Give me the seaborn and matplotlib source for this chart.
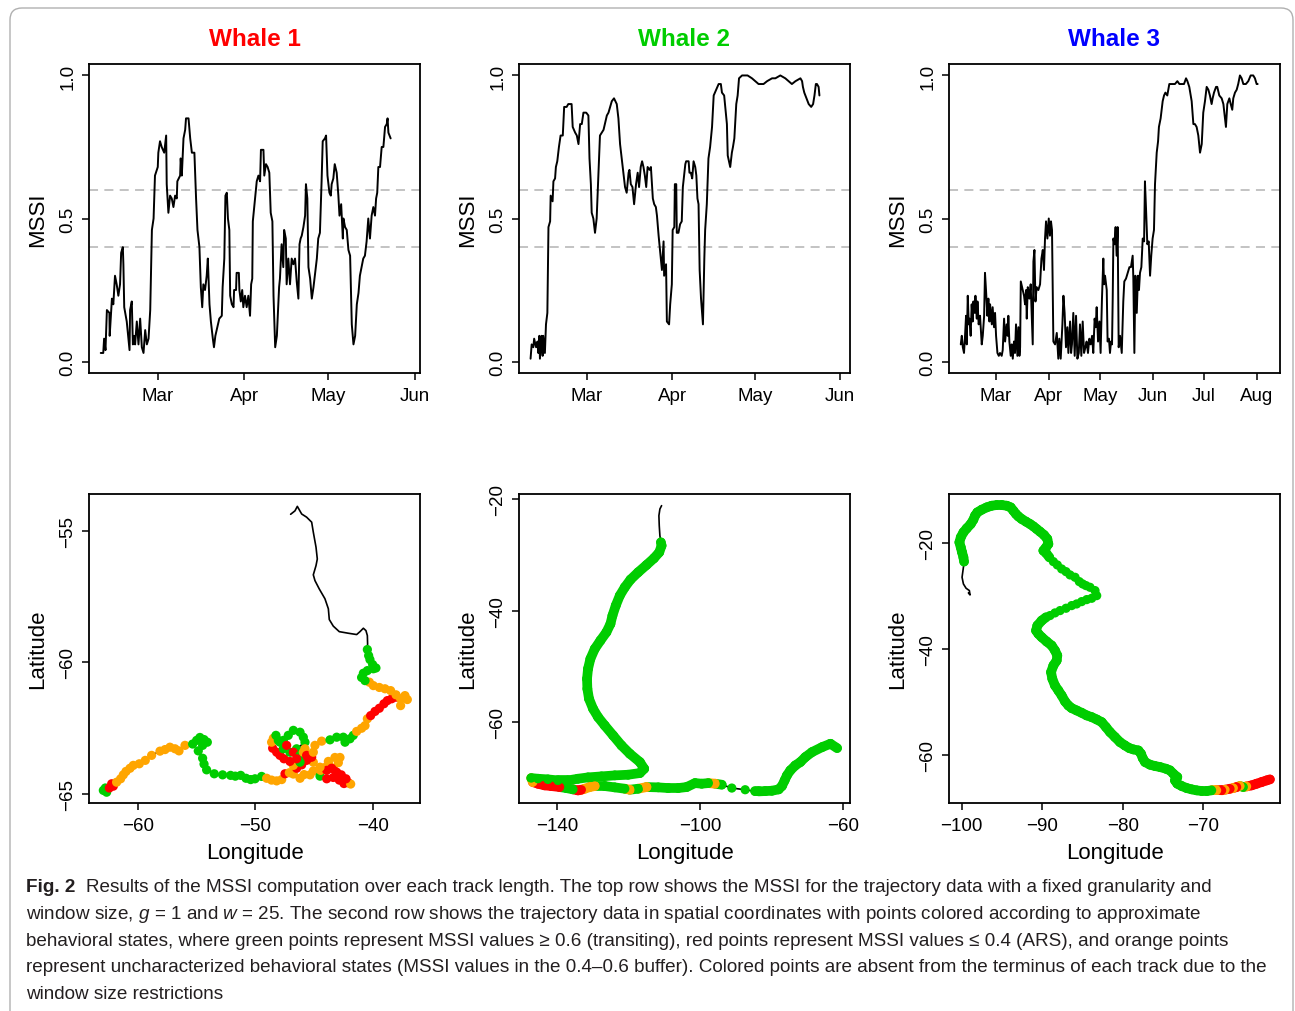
import numpy as np
import pandas as pd
import matplotlib
matplotlib.use("Agg")
import matplotlib.pyplot as plt
import seaborn as sns
from matplotlib.patches import FancyBboxPatch

# ---------------- data ----------------
whale_names = ["Whale 1", "Whale 2", "Whale 3"]
whale_colors = ["#FF0000", "#00CD00", "#0000FF"]
state_palette = {"g": "#00CD00", "r": "#FF0000", "o": "#FFA500"}
thresholds = [0.4, 0.6]

month_days = [59, 90, 120, 151, 181, 212]          # day of year (0 = Jan 1)
month_labels = ["Mar", "Apr", "May", "Jun", "Jul", "Aug"]
mssi_ticks = [0.0, 0.5, 1.0]
mssi_ticklabels = ["0.0", "0.5", "1.0"]

# (day of year, MSSI)
w1_series = [(38.6,0.03),(39.5,0.03),(39.8,0.08),(40.3,0.04),(40.8,0.18),(41.7,0.17),(41.8,0.09),(42.6,0.22),(43.1,0.20),(43.7,0.30),(44.3,0.27),(44.9,0.23),(45.5,0.27),(45.9,0.38),(46.5,0.40),(46.7,0.34),(47.0,0.19),(47.9,0.14),(48.9,0.04),(49.1,0.18),(49.7,0.21),(50.1,0.06),(50.5,0.09),(50.9,0.06),(51.5,0.14),(52.1,0.06),(52.7,0.15),(53.3,0.05),(53.9,0.03),(54.5,0.11),(55.1,0.06),(55.7,0.08),(56.3,0.18),(56.9,0.46),(57.5,0.50),(58.0,0.65),(59.0,0.68),(59.2,0.73),(59.8,0.77),(60.4,0.75),(61.3,0.73),(62.0,0.79),(62.2,0.62),(62.8,0.52),(63.4,0.58),(64.0,0.57),(64.6,0.54),(65.2,0.58),(65.8,0.57),(66.0,0.63),(67.0,0.65),(67.2,0.71),(67.6,0.65),(68.2,0.78),(68.8,0.81),(69.1,0.85),(70.0,0.85),(70.6,0.78),(71.2,0.73),(72.1,0.73),(72.7,0.57),(73.2,0.46),(73.9,0.40),(74.4,0.26),(74.9,0.19),(75.3,0.27),(75.9,0.25),(76.5,0.30),(76.9,0.36),(77.5,0.20),(78.0,0.14),(78.7,0.08),(79.1,0.05),(79.6,0.09),(80.3,0.12),(81.0,0.15),(81.9,0.16),(82.2,0.26),(82.8,0.36),(83.2,0.58),(83.7,0.59),(84.1,0.50),(84.6,0.46),(84.9,0.23),(85.5,0.20),(86.1,0.19),(86.3,0.25),(87.0,0.25),(87.2,0.31),(88.0,0.31),(88.2,0.25),(88.7,0.21),(89.2,0.25),(89.6,0.19),(90.2,0.23),(90.8,0.19),(91.4,0.23),(92.0,0.16),(92.4,0.27),(92.8,0.29),(93.0,0.49),(93.8,0.57),(94.4,0.63),(95.0,0.65),(95.6,0.63),(95.9,0.74),(96.8,0.74),(97.1,0.65),(97.7,0.69),(98.3,0.68),(98.9,0.66),(99.4,0.52),(100.0,0.49),(100.4,0.23),(101.0,0.05),(101.6,0.09),(102.4,0.26),(102.7,0.29),(103.3,0.41),(103.9,0.33),(104.2,0.46),(104.8,0.43),(105.1,0.27),(105.7,0.36),(106.3,0.27),(106.9,0.36),(107.5,0.34),(108.1,0.36),(108.7,0.28),(109.3,0.22),(109.7,0.41),(110.1,0.43),(110.5,0.44),(111.1,0.47),(111.7,0.51),(112.0,0.62),(112.5,0.57),(112.9,0.33),(113.5,0.29),(114.1,0.22),(114.7,0.26),(115.3,0.31),(115.9,0.36),(116.4,0.43),(117.0,0.45),(117.6,0.63),(118.0,0.77),(118.8,0.78),(119.2,0.79),(119.7,0.65),(120.4,0.59),(120.9,0.58),(121.2,0.62),(121.8,0.64),(122.3,0.69),(123.0,0.66),(123.6,0.58),(124.0,0.51),(124.6,0.55),(125.2,0.43),(125.4,0.50),(126.0,0.47),(126.6,0.46),(127.2,0.39),(127.8,0.37),(128.4,0.13),(129.0,0.06),(129.6,0.09),(130.2,0.20),(130.8,0.24),(131.3,0.30),(131.9,0.33),(132.5,0.36),(133.1,0.37),(133.7,0.42),(134.3,0.50),(134.9,0.43),(135.5,0.51),(136.1,0.54),(136.7,0.51),(137.1,0.57),(137.5,0.59),(137.9,0.68),(138.5,0.68),(139.1,0.75),(139.7,0.75),(140.3,0.82),(140.9,0.83),(141.2,0.85),(141.5,0.80),(142.3,0.78)]

w2_series = [(38.6,0.01),(39.0,0.06),(39.6,0.05),(39.9,0.08),(40.6,0.05),(41.1,0.07),(41.4,0.03),(41.8,0.09),(42.0,0.01),(42.6,0.09),(43.0,0.02),(43.2,0.09),(43.8,0.03),(44.2,0.13),(44.7,0.17),(45.1,0.47),(45.7,0.49),(45.9,0.58),(46.6,0.56),(46.9,0.63),(47.5,0.64),(47.8,0.68),(48.3,0.70),(48.9,0.75),(49.5,0.79),(50.3,0.79),(50.8,0.89),(51.7,0.89),(52.3,0.90),(52.9,0.90),(53.5,0.90),(53.9,0.82),(54.8,0.80),(55.4,0.79),(56.0,0.76),(56.6,0.83),(57.2,0.83),(57.8,0.87),(58.8,0.87),(59.6,0.86),(60.0,0.71),(60.5,0.62),(60.8,0.52),(61.4,0.50),(62.0,0.45),(62.6,0.50),(63.2,0.65),(63.8,0.79),(65.1,0.81),(66.3,0.86),(66.9,0.87),(68.1,0.91),(68.9,0.92),(69.9,0.90),(70.5,0.85),(71.1,0.76),(71.7,0.71),(72.9,0.61),(73.5,0.59),(74.2,0.66),(74.5,0.67),(75.0,0.62),(75.6,0.61),(76.2,0.55),(76.9,0.62),(77.5,0.66),(78.0,0.61),(78.6,0.68),(79.1,0.70),(79.6,0.68),(80.1,0.65),(80.6,0.61),(81.1,0.68),(81.8,0.67),(82.3,0.68),(82.6,0.63),(83.0,0.57),(83.5,0.55),(84.1,0.54),(84.5,0.51),(85.1,0.44),(86.3,0.32),(86.9,0.42),(87.1,0.30),(87.8,0.34),(88.1,0.14),(88.9,0.13),(89.3,0.20),(89.9,0.27),(90.2,0.46),(90.8,0.47),(91.0,0.62),(91.5,0.62),(91.7,0.45),(92.3,0.45),(92.9,0.48),(93.5,0.49),(93.9,0.61),(94.8,0.69),(95.1,0.70),(96.0,0.70),(96.3,0.66),(96.8,0.66),(97.3,0.64),(97.8,0.70),(98.4,0.68),(98.8,0.65),(99.2,0.57),(99.6,0.55),(100.0,0.32),(100.5,0.22),(101.2,0.13),(101.7,0.36),(102.0,0.46),(102.6,0.55),(103.2,0.71),(103.8,0.75),(104.5,0.82),(105.1,0.93),(106.0,0.95),(106.9,0.97),(107.7,0.97),(108.1,0.94),(108.9,0.93),(109.9,0.83),(110.2,0.72),(111.1,0.68),(111.7,0.73),(112.1,0.75),(112.6,0.78),(113.3,0.90),(113.8,0.93),(114.3,0.99),(115.4,1.00),(117.4,1.00),(119.0,0.99),(120.2,0.98),(121.4,0.97),(123.2,0.97),(124.5,0.98),(126.3,0.99),(127.5,0.99),(129.3,1.00),(131.1,0.99),(132.3,0.98),(133.5,0.97),(134.8,0.98),(136.6,0.99),(137.2,0.98),(137.5,0.96),(138.0,0.94),(138.8,0.92),(139.6,0.90),(140.5,0.89),(141.2,0.90),(141.7,0.93),(142.2,0.97),(142.6,0.97),(143.2,0.96),(143.5,0.93)]

w3_series = [(38.5,0.06),(39.1,0.09),(39.7,0.05),(40.4,0.03),(41.0,0.09),(41.6,0.16),(42.0,0.06),(42.6,0.23),(43.2,0.13),(43.6,0.15),(44.3,0.09),(44.9,0.20),(45.5,0.14),(45.9,0.21),(46.7,0.17),(47.1,0.23),(47.9,0.15),(48.3,0.21),(49.0,0.13),(49.8,0.16),(50.8,0.06),(51.4,0.09),(52.2,0.16),(52.7,0.31),(53.3,0.25),(54.1,0.16),(54.7,0.22),(55.3,0.14),(55.7,0.20),(56.7,0.13),(57.2,0.19),(58.0,0.12),(58.6,0.17),(59.2,0.09),(60.0,0.03),(60.8,0.02),(61.5,0.03),(62.5,0.02),(63.1,0.04),(63.9,0.15),(64.5,0.07),(65.4,0.13),(66.0,0.09),(66.4,0.16),(67.0,0.07),(67.8,0.02),(68.4,0.06),(69.0,0.01),(69.7,0.07),(70.3,0.03),(70.9,0.13),(71.7,0.02),(72.3,0.12),(72.9,0.02),(73.3,0.05),(73.7,0.28),(74.8,0.25),(75.6,0.23),(76.2,0.20),(76.8,0.25),(77.2,0.15),(77.8,0.26),(78.7,0.22),(79.5,0.27),(80.1,0.17),(80.7,0.06),(81.1,0.35),(81.7,0.39),(82.3,0.21),(83.0,0.26),(84.0,0.25),(85.0,0.27),(85.8,0.36),(86.6,0.39),(87.3,0.32),(87.9,0.43),(88.5,0.49),(89.3,0.43),(90.1,0.50),(90.8,0.44),(91.4,0.49),(92.0,0.46),(92.8,0.07),(93.8,0.06),(94.8,0.10),(95.7,0.01),(96.3,0.08),(97.1,0.01),(98.1,0.13),(98.7,0.23),(99.4,0.17),(100.2,0.05),(101.0,0.12),(101.6,0.03),(102.6,0.14),(103.2,0.03),(103.7,0.06),(104.5,0.17),(105.3,0.02),(106.1,0.16),(106.9,0.01),(107.7,0.03),(108.4,0.13),(109.2,0.02),(110.0,0.14),(110.8,0.03),(111.6,0.05),(112.3,0.07),(113.1,0.03),(113.9,0.08),(114.7,0.06),(115.5,0.09),(116.2,0.03),(117.0,0.15),(117.6,0.12),(118.2,0.19),(119.0,0.07),(119.8,0.14),(120.5,0.03),(121.3,0.22),(122.1,0.36),(122.5,0.27),(123.1,0.30),(124.1,0.25),(124.6,0.07),(125.4,0.08),(126.0,0.03),(126.6,0.07),(127.2,0.06),(127.6,0.22),(128.0,0.43),(128.6,0.41),(129.3,0.47),(129.9,0.37),(130.5,0.47),(131.1,0.05),(131.9,0.09),(132.9,0.03),(133.8,0.21),(134.4,0.28),(135.4,0.29),(136.4,0.31),(137.4,0.33),(138.3,0.33),(139.3,0.37),(139.7,0.29),(140.3,0.03),(140.9,0.30),(141.7,0.17),(142.4,0.30),(143.0,0.25),(143.6,0.31),(144.4,0.33),(145.2,0.43),(146.0,0.42),(146.5,0.63),(147.1,0.54),(147.9,0.41),(148.7,0.42),(149.5,0.30),(150.2,0.37),(151.0,0.43),(151.8,0.46),(152.4,0.62),(153.4,0.73),(154.2,0.77),(154.7,0.82),(155.7,0.85),(156.9,0.91),(157.7,0.93),(158.5,0.94),(159.6,0.93),(160.8,0.97),(162.2,0.97),(164.1,0.97),(165.5,0.98),(166.7,0.97),(168.0,0.97),(169.4,0.97),(170.6,0.99),(171.4,0.98),(172.5,0.96),(173.9,0.91),(174.9,0.83),(175.8,0.83),(176.8,0.82),(177.8,0.79),(178.8,0.73),(179.8,0.76),(180.7,0.87),(181.7,0.91),(182.7,0.96),(183.7,0.95),(184.6,0.93),(185.6,0.90),(186.2,0.92),(187.0,0.94),(188.2,0.96),(188.9,0.96),(190.1,0.93),(191.5,0.92),(192.5,0.90),(193.4,0.85),(194.0,0.82),(194.8,0.90),(196.0,0.92),(196.8,0.90),(197.7,0.88),(198.3,0.92),(199.3,0.94),(200.3,0.95),(201.2,0.97),(202.2,1.00),(203.2,0.99),(204.2,0.97),(205.7,0.97),(207.1,0.98),(208.5,1.00),(210.0,1.00),(211.0,0.99),(212.0,0.97),(212.6,0.97)]

# (longitude, latitude, state)  g = MSSI>=0.6, r = MSSI<=0.4, o = buffer, '-' = no MSSI (terminus)
w1_track = [(-62.92,-64.87,'g'),(-62.64,-64.94,'g'),(-62.75,-64.78,'g'),(-62.41,-64.78,'r'),(-62.21,-64.62,'r'),(-62.07,-64.71,'r'),(-61.79,-64.56,'o'),(-61.45,-64.43,'o'),(-61.22,-64.28,'o'),(-60.99,-64.15,'o'),(-60.65,-64.03,'o'),(-60.37,-63.92,'o'),(-59.86,-63.86,'o'),(-59.35,-63.73,'o'),(-58.81,-63.54,'o'),(-58.10,-63.38,'o'),(-57.67,-63.32,'o'),(-57.25,-63.23,'o'),(-56.82,-63.29,'o'),(-56.48,-63.37,'o'),(-55.97,-63.16,'o'),(-55.32,-63.11,'g'),(-54.98,-62.97,'g'),(-54.70,-62.86,'g'),(-54.35,-62.94,'g'),(-54.07,-63.04,'g'),(-54.47,-63.16,'g'),(-54.84,-63.37,'g'),(-54.47,-63.65,'g'),(-54.35,-63.87,'g'),(-54.13,-64.09,'g'),(-53.48,-64.24,'g'),(-52.77,-64.28,'g'),(-52.09,-64.30,'g'),(-51.69,-64.33,'g'),(-51.23,-64.30,'g'),(-50.78,-64.41,'g'),(-50.38,-64.46,'g'),(-50.01,-64.43,'g'),(-49.45,-64.34,'g'),(-49.02,-64.41,'o'),(-48.60,-64.48,'o'),(-48.17,-64.51,'o'),(-47.74,-64.46,'o'),(-47.46,-64.24,'r'),(-47.09,-64.20,'o'),(-46.75,-64.25,'o'),(-46.18,-64.41,'o'),(-45.84,-64.27,'o'),(-45.33,-64.28,'o'),(-45.05,-64.13,'o'),(-44.48,-64.33,'g'),(-43.91,-64.43,'r'),(-43.35,-64.38,'r'),(-42.84,-64.48,'r'),(-42.44,-64.61,'r'),(-42.07,-64.58,'r'),(-41.87,-64.63,'o'),(-42.27,-64.43,'r'),(-42.67,-64.28,'r'),(-43.06,-64.18,'r'),(-43.35,-64.05,'r'),(-43.69,-63.92,'o'),(-44.06,-64.00,'o'),(-44.43,-64.11,'o'),(-43.77,-63.77,'o'),(-43.21,-63.62,'o'),(-42.78,-63.62,'o'),(-42.92,-63.82,'o'),(-43.49,-64.03,'r'),(-43.91,-64.11,'r'),(-44.48,-63.99,'o'),(-45.05,-63.80,'o'),(-45.33,-63.61,'r'),(-45.62,-63.73,'r'),(-46.04,-63.90,'r'),(-46.47,-64.03,'r'),(-46.75,-63.92,'o'),(-47.04,-63.77,'r'),(-47.55,-63.67,'r'),(-47.89,-63.54,'r'),(-48.17,-63.42,'r'),(-48.51,-63.27,'r'),(-48.60,-63.04,'o'),(-48.45,-62.89,'o'),(-48.23,-62.78,'g'),(-48.03,-62.97,'g'),(-47.60,-62.97,'g'),(-47.18,-62.78,'g'),(-46.75,-62.59,'g'),(-46.18,-62.66,'g'),(-45.90,-62.85,'g'),(-45.76,-63.04,'g'),(-46.47,-63.29,'g'),(-47.04,-63.42,'g'),(-47.60,-63.29,'g'),(-47.89,-63.04,'g'),(-47.32,-63.16,'r'),(-46.75,-63.42,'r'),(-46.18,-63.54,'g'),(-45.90,-63.42,'o'),(-45.76,-63.29,'o'),(-46.18,-63.80,'g'),(-46.47,-63.67,'r'),(-45.62,-63.54,'r'),(-45.19,-63.61,'r'),(-45.05,-63.42,'o'),(-44.91,-63.16,'o'),(-44.34,-63.00,'o'),(-43.63,-62.95,'g'),(-43.06,-62.85,'g'),(-42.50,-62.85,'g'),(-42.35,-63.04,'g'),(-41.93,-62.91,'g'),(-41.65,-62.78,'g'),(-41.36,-62.63,'o'),(-40.94,-62.51,'o'),(-40.65,-62.41,'o'),(-40.45,-62.15,'o'),(-40.17,-62.03,'r'),(-39.80,-61.87,'r'),(-39.43,-61.75,'r'),(-39.04,-61.58,'r'),(-38.75,-61.46,'r'),(-38.38,-61.39,'r'),(-38.01,-61.33,'r'),(-37.62,-61.39,'o'),(-37.05,-61.42,'o'),(-37.25,-61.27,'o'),(-37.62,-61.65,'o'),(-38.01,-61.24,'o'),(-38.47,-61.08,'o'),(-38.95,-61.01,'o'),(-39.43,-60.96,'o'),(-39.94,-60.89,'o'),(-40.28,-60.76,'o'),(-40.65,-60.70,'g'),(-40.94,-60.58,'g'),(-40.79,-60.42,'g'),(-40.45,-60.32,'g'),(-39.94,-60.25,'g'),(-39.72,-60.22,'g'),(-40.00,-60.09,'g'),(-40.23,-59.90,'g'),(-40.34,-59.75,'g'),(-40.45,-59.52,'g'),(-40.43,-59.30,'-'),(-40.45,-58.99,'-'),(-40.57,-58.80,'-'),(-40.79,-58.71,'-'),(-41.08,-58.84,'-'),(-41.36,-58.95,'-'),(-42.07,-58.90,'-'),(-42.84,-58.84,'-'),(-43.35,-58.63,'-'),(-43.69,-58.38,'-'),(-43.77,-57.97,'-'),(-44.06,-57.59,'-'),(-44.54,-57.22,'-'),(-44.91,-56.90,'-'),(-45.05,-56.68,'-'),(-44.82,-56.33,'-'),(-44.71,-56.08,'-'),(-44.82,-55.63,'-'),(-45.05,-55.06,'-'),(-45.19,-54.68,'-'),(-45.62,-54.49,'-'),(-46.04,-54.37,'-'),(-46.41,-54.08,'-'),(-46.61,-54.25,'-'),(-46.98,-54.38,'-')]

w2_track = [(-61.61,-64.66,'g'),(-63.48,-63.88,'g'),(-65.82,-64.48,'g'),(-68.63,-65.37,'g'),(-70.51,-66.27,'g'),(-71.91,-67.16,'g'),(-73.31,-67.76,'g'),(-74.72,-68.66,'g'),(-75.66,-69.55,'g'),(-76.31,-70.45,'g'),(-77.06,-71.46,'g'),(-78.00,-72.06,'g'),(-79.87,-72.30,'g'),(-81.74,-72.36,'g'),(-83.61,-72.42,'g'),(-84.55,-72.42,'g'),(-87.36,-72.12,'g'),(-91.10,-71.82,'g'),(-93.91,-71.22,'g'),(-95.79,-71.04,'o'),(-97.66,-70.93,'g'),(-99.53,-71.04,'g'),(-101.40,-70.93,'g'),(-103.75,-71.64,'g'),(-106.09,-71.82,'g'),(-108.90,-71.82,'g'),(-111.70,-71.70,'g'),(-114.98,-71.64,'o'),(-117.32,-71.94,'g'),(-119.66,-72.12,'o'),(-121.07,-71.94,'g'),(-123.88,-71.70,'g'),(-126.69,-71.46,'g'),(-129.49,-71.46,'o'),(-130.90,-71.64,'o'),(-132.30,-71.94,'o'),(-133.24,-72.12,'r'),(-134.18,-72.24,'r'),(-135.58,-72.06,'g'),(-137.45,-71.82,'g'),(-139.33,-71.64,'r'),(-141.67,-71.46,'r'),(-143.54,-71.34,'r'),(-145.41,-71.04,'r'),(-146.82,-70.75,'o'),(-147.28,-70.03,'g'),(-145.41,-70.15,'g'),(-142.60,-70.27,'g'),(-139.79,-70.45,'g'),(-136.99,-70.45,'g'),(-134.18,-70.15,'g'),(-131.37,-69.91,'g'),(-127.62,-69.73,'g'),(-123.88,-69.55,'g'),(-120.13,-69.43,'g'),(-116.85,-69.13,'g'),(-115.64,-68.36,'g'),(-116.85,-67.16,'g'),(-119.66,-65.67,'g'),(-122.00,-64.18,'g'),(-124.34,-62.39,'g'),(-126.69,-60.60,'g'),(-128.56,-59.10,'g'),(-129.96,-57.61,'g'),(-131.09,-55.82,'g'),(-131.55,-54.03,'g'),(-131.65,-52.24,'g'),(-131.37,-50.45,'g'),(-130.71,-48.66,'g'),(-129.49,-46.87,'g'),(-127.90,-45.37,'g'),(-126.22,-43.88,'g'),(-125.09,-42.39,'g'),(-124.53,-40.90,'g'),(-123.60,-39.10,'g'),(-122.47,-37.31,'g'),(-121.07,-35.82,'g'),(-119.48,-34.45,'g'),(-117.32,-33.13,'g'),(-114.98,-31.82,'g'),(-112.92,-30.63,'g'),(-111.42,-29.55,'g'),(-110.77,-28.36,'g'),(-110.96,-27.76,'g'),(-111.24,-26.57,'-'),(-111.42,-24.78,'-'),(-111.52,-22.99,'-'),(-111.24,-21.79,'-'),(-110.77,-21.19,'-')]

w3_track = [(-61.73,-64.51,'r'),(-62.14,-64.70,'r'),(-62.76,-65.01,'r'),(-63.38,-65.32,'r'),(-64.01,-65.64,'r'),(-64.63,-65.83,'o'),(-65.04,-65.95,'g'),(-65.45,-65.76,'o'),(-65.87,-65.95,'r'),(-66.28,-66.14,'o'),(-66.69,-66.27,'r'),(-67.31,-66.45,'o'),(-67.73,-66.58,'r'),(-68.35,-66.58,'o'),(-68.97,-66.58,'g'),(-69.59,-66.70,'g'),(-70.21,-66.70,'g'),(-70.83,-66.58,'g'),(-71.45,-66.39,'g'),(-72.07,-66.14,'g'),(-72.69,-65.76,'g'),(-73.23,-65.32,'g'),(-73.52,-64.70,'g'),(-73.23,-64.07,'g'),(-73.73,-63.44,'g'),(-74.14,-62.81,'g'),(-74.64,-62.50,'g'),(-75.38,-62.18,'g'),(-76.00,-61.99,'g'),(-76.62,-61.74,'g'),(-77.24,-61.24,'g'),(-77.53,-60.49,'g'),(-77.74,-59.67,'g'),(-78.07,-59.05,'g'),(-78.69,-58.86,'g'),(-79.19,-58.61,'g'),(-79.73,-58.11,'g'),(-80.35,-57.48,'g'),(-80.97,-56.53,'g'),(-81.59,-55.59,'g'),(-82.09,-54.65,'g'),(-82.62,-53.71,'g'),(-83.24,-53.21,'g'),(-83.86,-52.77,'g'),(-84.48,-52.45,'g'),(-85.11,-51.95,'g'),(-85.73,-51.51,'g'),(-86.35,-51.07,'g'),(-86.76,-50.57,'g'),(-87.17,-49.82,'g'),(-87.59,-48.69,'g'),(-88.00,-47.75,'g'),(-88.42,-46.81,'g'),(-88.75,-45.55,'g'),(-88.91,-44.29,'g'),(-88.62,-43.04,'g'),(-88.21,-42.10,'g'),(-88.13,-41.16,'g'),(-88.42,-40.21,'g'),(-88.83,-39.27,'g'),(-89.45,-38.52,'g'),(-90.07,-37.70,'g'),(-90.48,-37.07,'g'),(-90.77,-36.45,'g'),(-90.61,-35.51,'g'),(-90.07,-34.56,'g'),(-89.53,-33.94,'g'),(-89.04,-33.62,'g'),(-88.42,-33.12,'g'),(-87.79,-32.68,'g'),(-87.05,-32.24,'g'),(-86.35,-31.74,'g'),(-85.73,-31.43,'g'),(-85.11,-30.99,'g'),(-84.48,-30.61,'g'),(-83.86,-30.36,'g'),(-83.24,-29.86,'g'),(-83.45,-28.91,'g'),(-84.07,-28.29,'g'),(-84.57,-27.97,'g'),(-84.98,-27.66,'g'),(-85.40,-27.22,'g'),(-85.93,-26.40,'g'),(-86.55,-25.96,'g'),(-87.05,-25.34,'g'),(-87.59,-24.83,'g'),(-88.13,-24.08,'g'),(-88.62,-23.45,'g'),(-89.12,-22.64,'g'),(-89.53,-21.82,'g'),(-89.86,-21.38,'g'),(-89.53,-20.75,'g'),(-89.24,-20.13,'g'),(-89.37,-19.18,'g'),(-89.78,-18.43,'g'),(-90.28,-17.80,'g'),(-90.69,-17.30,'g'),(-91.10,-16.80,'g'),(-91.52,-16.36,'g'),(-92.01,-15.92,'g'),(-92.55,-15.42,'g'),(-92.97,-14.92,'g'),(-93.26,-14.48,'g'),(-93.59,-13.85,'g'),(-93.92,-13.22,'g'),(-94.41,-12.91,'g'),(-95.04,-12.78,'g'),(-95.66,-12.78,'g'),(-96.28,-12.91,'g'),(-96.90,-13.22,'g'),(-97.52,-13.66,'g'),(-98.06,-14.16,'g'),(-98.35,-14.79,'g'),(-98.55,-15.54,'g'),(-98.88,-16.36,'g'),(-99.38,-17.18,'g'),(-99.79,-17.93,'g'),(-100.12,-18.87,'g'),(-100.29,-19.81,'g'),(-100.12,-20.75,'g'),(-99.96,-21.69,'g'),(-99.79,-22.64,'g'),(-99.71,-23.45,'g'),(-99.79,-24.52,'-'),(-99.88,-25.46,'-'),(-99.96,-26.40,'-'),(-99.79,-27.66,'-'),(-99.46,-28.47,'-'),(-99.05,-28.91,'-'),(-98.97,-29.73,'-'),(-99.17,-29.35,'-')]

# index runs where fixes are so dense that the dots merge into a band
w1_dense = []
w2_dense = [(0, 15), (18, 83)]
w3_dense = [(0, 66), (88, 122)]

lon_ticks = [[-60, -50, -40], [-140, -100, -60], [-100, -90, -80, -70]]
lat_ticks = [[-55, -60, -65], [-20, -40, -60], [-20, -40, -60]]

caption_lines = [
    "Results of the MSSI computation over each track length. The top row shows the MSSI for the trajectory data with a fixed granularity and",
    "window size, $g$ = 1 and $w$ = 25. The second row shows the trajectory data in spatial coordinates with points colored according to approximate",
    "behavioral states, where green points represent MSSI values \u2265 0.6 (transiting), red points represent MSSI values \u2264 0.4 (ARS), and orange points",
    "represent uncharacterized behavioral states (MSSI values in the 0.4\u20130.6 buffer). Colored points are absent from the terminus of each track due to the",
    "window size restrictions",
]

# ---------------- style ----------------
sns.set_theme(style="ticks")
plt.rcParams['font.family'] = ['Liberation Sans', 'DejaVu Sans']
plt.rcParams['mathtext.fontset'] = 'custom'
plt.rcParams['mathtext.rm'] = 'Liberation Sans'
plt.rcParams['mathtext.it'] = 'Liberation Sans:italic'
plt.rcParams['axes.unicode_minus'] = True
for k in ['text.color', 'axes.labelcolor', 'xtick.color', 'ytick.color', 'axes.edgecolor']:
    plt.rcParams[k] = 'black'

W, H = 1295, 1012
fig = plt.figure(figsize=(W / 100, H / 100), dpi=100)
fig.patch.set_facecolor('white')

col_left = [89, 519, 949]
col_right = [420, 850, 1280]
top_row = (65, 374)
bot_row = (495, 804)


def px_axes(left, top, right, bottom):
    return fig.add_axes([left / W, 1 - bottom / H, (right - left) / W, (bottom - top) / H])


def style_axes(ax):
    for s in ax.spines.values():
        s.set_visible(True)
        s.set_color('black')
        s.set_linewidth(1.3)
    ax.tick_params(axis='both', direction='out', length=5, width=1.1, labelsize=13.5,
                   bottom=True, left=True, top=False, right=False)
    ax.tick_params(axis='x', pad=5)
    ax.tick_params(axis='y', pad=4)
    ax.grid(False)


# ---------------- top row: MSSI time series ----------------
series = [w1_series, w2_series, w3_series]
ts_xlims = [(34.4, 152.8), (34.4, 154.6), (31.6, 225.7)]
n_months = [4, 4, 6]
for i in range(3):
    ax = px_axes(col_left[i], top_row[0], col_right[i], top_row[1])
    d = pd.DataFrame(series[i], columns=['day', 'mssi'])
    for t in thresholds:
        ax.axhline(t, color='#BEBEBE', lw=1.3, ls=(0, (5, 3.5)), zorder=1)
    sns.lineplot(data=d, x='day', y='mssi', sort=False, estimator=None, color='black',
                 lw=1.4, ax=ax, zorder=2)
    ax.set_xlim(*ts_xlims[i])
    ax.set_ylim(-0.04, 1.04)
    ax.set_xticks(month_days[:n_months[i]], month_labels[:n_months[i]])
    ax.set_yticks(mssi_ticks, mssi_ticklabels, rotation=90, va='center')
    ax.set_xlabel('')
    ax.set_ylabel('MSSI', fontsize=16, labelpad=8)
    style_axes(ax)
    fig.text((col_left[i] + col_right[i]) / 2 / W, 1 - 39 / H, whale_names[i],
             color=whale_colors[i], fontsize=17.5, weight='bold', ha='center', va='center')

# ---------------- bottom row: tracks ----------------
tracks = [w1_track, w2_track, w3_track]
dense = [w1_dense, w2_dense, w3_dense]
tr_xlims = [(-64.14, -35.97), (-150.7, -58.0), (-101.58, -60.48)]
tr_ylims = [(-65.35, -53.61), (-74.5, -19.1), (-68.96, -10.7)]
for i in range(3):
    ax = px_axes(col_left[i], bot_row[0], col_right[i], bot_row[1])
    d = pd.DataFrame(tracks[i], columns=['lon', 'lat', 'state'])
    sns.lineplot(data=d, x='lon', y='lat', sort=False, estimator=None, color='black',
                 lw=1.2, ax=ax, zorder=2)
    for a, b in dense[i]:
        for j in range(a, b):
            ax.plot(d.lon.iloc[j:j + 2], d.lat.iloc[j:j + 2], color=state_palette[d.state.iloc[j]],
                    lw=7.0, solid_capstyle='round', zorder=3)
    pts = d[d.state != '-']
    sns.scatterplot(data=pts, x='lon', y='lat', hue='state', palette=state_palette, s=44,
                    linewidth=0, legend=False, ax=ax, zorder=4)
    ax.set_xlim(*tr_xlims[i])
    ax.set_ylim(*tr_ylims[i])
    ax.set_xticks(lon_ticks[i], [f"\u2212{abs(v)}" for v in lon_ticks[i]])
    ax.set_yticks(lat_ticks[i], [f"\u2212{abs(v)}" for v in lat_ticks[i]], rotation=90, va='center')
    ax.set_xlabel('Longitude', fontsize=16, labelpad=6)
    ax.set_ylabel('Latitude', fontsize=16, labelpad=8)
    style_axes(ax)

# ---------------- frame and caption ----------------
frame = FancyBboxPatch((0.10, -0.3), 12.83, 10.33, boxstyle="round,pad=0,rounding_size=0.12",
                       transform=fig.dpi_scale_trans, facecolor='none', edgecolor='#B0B0B0', lw=1.0)
fig.add_artist(frame)

renderer = fig.canvas.get_renderer()
probe = fig.text(0, 0, caption_lines[3], fontsize=12.5)
wpx = probe.get_window_extent(renderer).width
probe.remove()
cap_fs = 12.5 * (1278 - 26) / wpx

cap_color = '#231F20'
baselines = [892, 919, 946, 972, 999]
fig_lbl = fig.text(26 / W, 1 - baselines[0] / H, "Fig. 2", fontsize=cap_fs, weight='bold',
                   color=cap_color, va='baseline', ha='left')
x_after = fig_lbl.get_window_extent(renderer).x1
fig.text((x_after + 11) / W, 1 - baselines[0] / H, caption_lines[0], fontsize=cap_fs,
         color=cap_color, va='baseline', ha='left')
for k in range(1, 5):
    fig.text(26 / W, 1 - baselines[k] / H, caption_lines[k], fontsize=cap_fs,
             color=cap_color, va='baseline', ha='left')

fig.savefig("out.png", dpi=100, facecolor='white')
